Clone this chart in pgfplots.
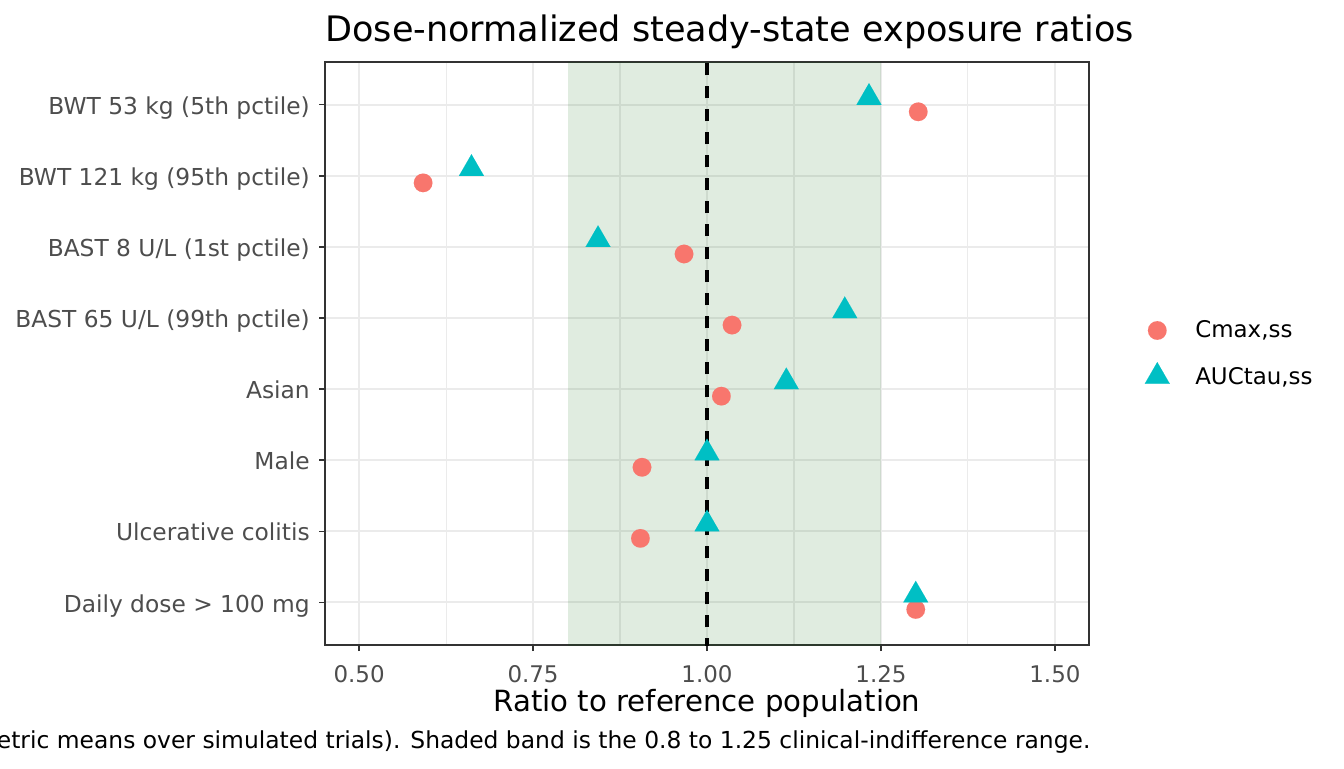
\documentclass[border=0pt]{standalone}
\usepackage{pgfplots}
\pgfplotsset{compat=1.18}
\usepackage{fontspec}
\setmainfont{DejaVu Sans}
\definecolor{cmaxc}{HTML}{F8766D}
\definecolor{aucc}{HTML}{00BFC4}
\definecolor{gridc}{HTML}{EBEBEB}
\definecolor{borderc}{HTML}{333333}
\definecolor{tickc}{HTML}{4D4D4D}
\definecolor{bandc}{HTML}{006400}
\newcommand{\ticksize}{\fontsize{17.2}{20}\selectfont}
\newcommand{\yticksize}{\fontsize{17.5}{20}\selectfont}
\begin{document}
\begin{tikzpicture}[x=1pt,y=1pt]
\useasboundingbox (0,0) rectangle (1008,576);
\clip (0,0) rectangle (1008,576);
\begin{axis}[
  at={(243.75pt,92.25pt)}, anchor=south west,
  scale only axis, width=573pt, height=437.25pt,
  xmin=0.451, xmax=1.549, ymin=0.4, ymax=8.6, y dir=reverse,
  xtick={0.5,0.75,1,1.25,1.5},
  xticklabels={0.50,0.75,1.00,1.25,1.50},
  minor xtick={0.625,0.875,1.125,1.375},
  ytick={1,2,3,4,5,6,7,8},
  yticklabels={BWT 53 kg (5th pctile),BWT 121 kg (95th pctile),BAST 8 U/L (1st pctile),BAST 65 U/L (99th pctile),Asian,Male,Ulcerative colitis,Daily dose > 100 mg},
  xtick pos=lower, ytick pos=left,
  grid=both,
  major grid style={gridc, line width=1.6pt},
  minor grid style={gridc, line width=0.8pt},
  tick align=outside, major tick length=4.5pt, minor tick length=0pt,
  tick style={borderc, line width=1.1pt},
  axis line style={borderc, line width=1.1pt},
  xticklabel style={font=\ticksize, text=tickc, anchor=base, inner sep=0pt, yshift=-23.75pt},
  yticklabel style={font=\yticksize, text=tickc, anchor=base east, inner sep=0pt, xshift=-6.75pt, yshift=-7.3pt},
  clip=true,
  legend style={at={(1,0.5)}, anchor=west, xshift=39pt, draw=none, fill=none,
    inner sep=0pt, font=\ticksize, row sep=13.75pt, column sep=16.5pt,
    nodes={inner sep=0pt}},
  legend cell align=left,
  legend image code/.code={\path[draw=none, fill=none] (-12pt,-10pt) rectangle (12pt,10pt);
    \draw[#1] plot coordinates {(0pt,0pt)};},
]
% clinical-indifference band
\addplot[draw=none, fill=bandc, fill opacity=0.12, forget plot]
  coordinates {(0.8,0) (1.25,0) (1.25,9) (0.8,9)} -- cycle;
% reference line
\addplot[black, line width=2.3pt, dash pattern=on 9pt off 8.25pt, forget plot]
  coordinates {(1,9) (1,0)};
% Cmax,ss
\addplot[only marks, mark=*, mark size=7pt, color=cmaxc,
  mark options={fill=cmaxc, line width=0.01pt}]
  coordinates {
  (1.3036,1.1) (0.592,2.1) (0.967,3.1) (1.036,4.1)
  (1.0207,5.1) (0.9066,6.1) (0.9043,7.1) (1.300,8.1)};
\addlegendentry{Cmax,ss}
% AUCtau,ss
\addplot[only marks, mark=triangle*, mark size=10.8pt, color=aucc,
  mark options={fill=aucc, line width=0.01pt}]
  coordinates {
  (1.2328,0.9) (0.6615,1.9) (0.8434,2.9) (1.198,3.9)
  (1.114,4.9) (1.000,5.9) (1.000,6.9) (1.300,7.9)};
\addlegendentry{AUCtau,ss}
\end{axis}
\node[anchor=base west, inner sep=0pt, font=\fontsize{26.3}{30}\selectfont]
  at (243.75,544.75) {Dose-normalized steady-state exposure ratios};
\node[anchor=base, inner sep=0pt, font=\fontsize{21.9}{25}\selectfont]
  at (530.25,42.75) {Ratio to reference population};
\node[anchor=base east, inner sep=0pt, font=\fontsize{17.55}{20}\selectfont]
  at (818,14.8) {Points show model-predicted exposure ratios vs. reference (geometric means over simulated trials). Shaded band is the 0.8 to 1.25 clinical-indifference range.};
\end{tikzpicture}
\end{document}
